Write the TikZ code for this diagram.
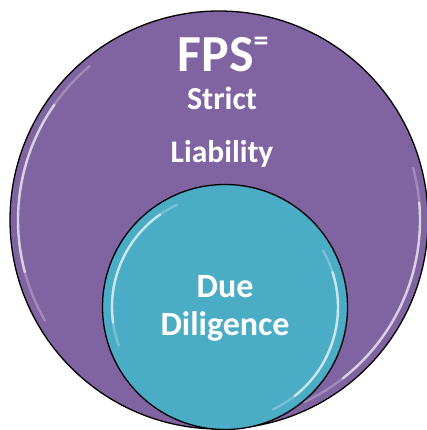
\documentclass[tikz,border=0pt]{standalone}
\usepackage{fontspec}
\setmainfont{Carlito}
\definecolor{outerpurple}{HTML}{8064A2}
\definecolor{innerteal}{HTML}{4BACC6}
\begin{document}
\begin{tikzpicture}[x=1pt,y=-1pt,
  ring/.style={draw=black,line width=1.3pt},
  glow/.style={white,opacity=0.6,line width=2.4pt,line cap=round},
  glowsoft/.style={white,opacity=0.25,line width=2.4pt,line cap=round},
  lbl/.style={text=white,font=\bfseries,anchor=base,inner sep=0pt}]
\useasboundingbox (0,0) rectangle (426,430);
\fill[white] (0,0) rectangle (426,430);
\node[ring,fill=outerpurple,circle,minimum size=418pt,inner sep=0pt] (outer) at (219,220) {};
% outer highlights
\draw[glowsoft] (outer.center) ++(150:201) arc[start angle=150,end angle=230,radius=201];
\draw[glow] (outer.center) ++(165:201) arc[start angle=165,end angle=215,radius=201];
\draw[glowsoft] (outer.center) ++(-15:201) arc[start angle=-15,end angle=65,radius=201];
\draw[glow] (outer.center) ++(-5:201) arc[start angle=-5,end angle=52,radius=201];
\node[ring,fill=innerteal,circle,minimum size=245pt,inner sep=0pt] (inner) at (225,307) {};
% inner highlights
\draw[glowsoft] (inner.center) ++(160:113) arc[start angle=160,end angle=245,radius=113];
\draw[glow] (inner.center) ++(172:113) arc[start angle=172,end angle=235,radius=113];
\draw[glowsoft] (inner.center) ++(-30:113) arc[start angle=-30,end angle=65,radius=113];
\draw[glow] (inner.center) ++(-18:113) arc[start angle=-18,end angle=52,radius=113];
\node[lbl,font=\bfseries\fontsize{52}{56}\selectfont] (fps) at (223,72) {FPS\raisebox{0.42em}{\fontsize{30}{30}\selectfont=}};
\node[lbl,font=\bfseries\fontsize{32}{36}\selectfont] (strict) at (222,110) {Strict};
\node[lbl,font=\bfseries\fontsize{31.5}{36}\selectfont] (liab) at (222,163) {Liability};
\node[lbl,font=\bfseries\fontsize{34}{38}\selectfont] (due) at (225,297) {Due};
\node[lbl,font=\bfseries\fontsize{34}{38}\selectfont] (dil) at (225,335) {Diligence};
\end{tikzpicture}
\end{document}
